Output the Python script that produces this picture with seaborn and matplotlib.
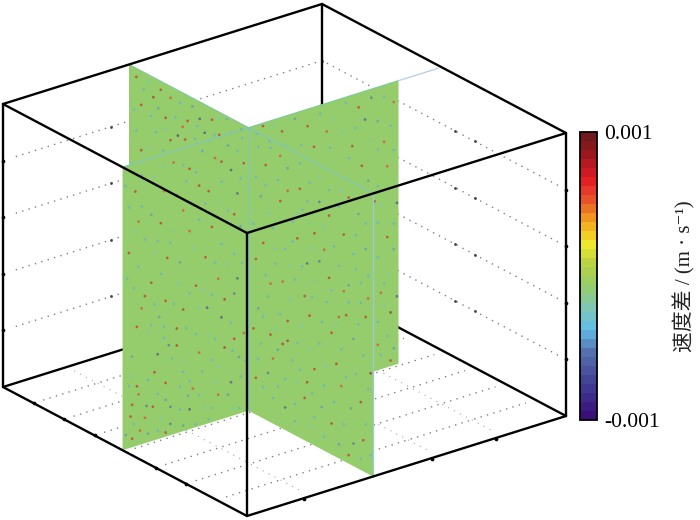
import numpy as np
import pandas as pd
import matplotlib
matplotlib.use("Agg")
import matplotlib.pyplot as plt
from matplotlib.cm import ScalarMappable
from matplotlib.colors import LinearSegmentedColormap, Normalize
import seaborn as sns

sns.set_theme(style="white")
plt.rcParams["font.family"] = ["Liberation Serif", "Noto Sans CJK SC", "DejaVu Sans"]

# ---- readings from the picture ------------------------------------------
z_levels = [0.2, 0.4, 0.6, 0.8]
floor_x_lines = [0.125, 0.25, 0.375, 0.5, 0.625, 0.75, 0.875]
floor_y_lines = [0.2, 0.4, 0.6, 0.8]
slice_x = 0.49          # slice at constant x
slice_y = 0.395         # slice at constant y
slice_x_green_end = 0.865
cbar_ticks = [-0.001, 0.001]
cbar_labels = ["-0.001", "0.001"]
cbar_title = "速度差 / (m · s⁻¹)"
bar_colors = ["#3a1078", "#3d2f8c", "#48509c", "#5572ae", "#5fbde8", "#7fc6b4",
              "#96cd6c", "#b5d044", "#efe92a", "#f3a71f", "#e8562a", "#e31b25",
              "#a5181f", "#701a1e"]
cut_green = "#96cd6c"

# slice x = const, y < slice_y: (y, z, speed difference x 1e-4)
panel_a = [
 (.03,.32,-5),(.11,.30,-8),(.145,.32,-6),(.17,.31,7),(.08,.39,-3),(.13,.35,-4),(.20,.36,-4),
 (.265,.41,-8),(.31,.36,-8),(.36,.48,-7),(.35,.43,-6),(.32,.42,8),(.07,.52,7),(.10,.48,-4),
 (.135,.48,7),(.035,.56,-4),(.09,.56,7),(.17,.53,-3),(.21,.48,-4),(.25,.48,-3),(.23,.50,7),
 (.045,.42,7),(.09,.41,-4),(.13,.39,-4),(.17,.37,7),(.23,.33,-4),(.27,.31,-3),(.29,.29,-4),
 (.35,.27,7),(.38,.28,6),(.34,.33,-4),(.32,.25,8),(.345,.23,-4),(.365,.20,-5),(.385,.18,-4),
 (.37,.13,-4),(.34,.12,-7),(.29,.14,-3),(.25,.19,-4),(.21,.17,-4),(.22,.14,6),(.205,.12,-5),
 (.135,.19,7),(.08,.22,-4),(.045,.21,7),(.02,.22,-4),(.05,.18,6),(.135,.13,-5),(.075,.13,-6),
 (.095,.12,7),(.15,.10,-6),(.21,.07,-8),(.18,.08,-4),(.255,.06,-3),(.28,.05,-4),(.365,.02,-4),
 (.345,.025,-3),(.27,.015,-4),(.23,.01,-4),(.19,.02,-5),(.135,.015,7),(.08,.03,-5),(.055,.05,6),
 (.035,.08,-4),(.01,.05,-5),(.03,.03,7),(.15,.04,-6),(.11,.03,-4),(.19,.21,-4),(.025,.11,7),
 (.05,.63,-4),(.02,.69,7),(.10,.66,-3),(.14,.63,7),(.18,.60,-5),(.22,.64,-3),(.26,.59,7),
 (.31,.62,-4),(.35,.57,-4),(.37,.66,-5),(.035,.76,-3),(.07,.72,-4),(.12,.76,7),(.16,.72,-3),
 (.19,.78,6),(.24,.73,-4),(.28,.69,7),(.33,.73,-4),(.36,.78,-7),(.02,.85,-4),(.06,.84,-4),
 (.09,.80,-5),(.13,.87,6),(.17,.84,7),(.20,.88,-4),(.24,.85,7),(.27,.82,7),(.31,.84,-4),
 (.34,.87,-8),(.37,.83,-4),(.06,.95,-4),(.10,.93,-3),(.16,.96,6),(.21,.92,7),(.25,.97,-4),
 (.29,.93,6),(.33,.96,-5),(.36,.93,-4),(.38,.88,7),(.04,.90,7),
 (.015,.60,-4),(.06,.48,6),(.115,.43,-5),(.16,.46,-4),(.19,.43,7),(.24,.42,-3),(.28,.45,-4),
 (.30,.50,6),(.33,.54,-3),(.375,.53,-4),(.03,.25,-3),(.10,.24,7),(.155,.27,-4),(.185,.25,-3),
 (.24,.26,6),(.28,.22,-4),(.30,.19,-3),(.18,.16,-4),(.11,.16,-4),(.03,.15,7),(.33,.08,-5),
 (.30,.09,6),(.24,.11,-4),(.12,.07,-3),(.07,.09,6),(.15,.68,-4),(.21,.70,6),(.30,.77,-3),
 (.26,.78,-4),(.11,.70,-4),(.05,.79,6),(.01,.93,-4),(.13,.96,-3),(.19,.94,-4),(.23,.90,-4),
 (.31,.91,7),(.375,.97,-4),(.35,.71,7),(.29,.56,-4),(.12,.58,-4),
]
# slice y = const, x > slice_x: (x, z, speed difference x 1e-4)
panel_b = [
 (.51,.30,7),(.55,.36,-4),(.58,.31,7),(.61,.27,-5),(.63,.30,8),(.65,.32,8),(.67,.26,-4),
 (.70,.24,-4),(.73,.21,8),(.76,.27,7),(.80,.23,-4),(.84,.19,-4),(.87,.26,6),(.91,.20,-5),
 (.95,.24,7),(.98,.30,-4),(.53,.20,-4),(.57,.17,-6),(.61,.14,-4),(.64,.18,-4),(.68,.11,-4),
 (.72,.15,7),(.76,.10,-4),(.79,.15,-5),(.83,.11,7),(.88,.13,-4),(.92,.08,-6),(.96,.11,7),
 (.99,.07,-4),(.86,.05,-5),(.90,.03,7),(.95,.04,-4),(.80,.05,-4),(.74,.06,-3),(.68,.05,-4),
 (.64,.08,-7),(.59,.09,-4),(.55,.11,-4),(.52,.13,7),(.53,.38,-5),(.57,.44,-4),(.62,.40,-4),
 (.66,.47,-3),(.71,.40,-3),(.74,.45,7),(.78,.37,-4),(.83,.43,7),(.87,.39,-4),(.92,.45,-5),
 (.96,.41,-4),(.99,.36,9),(.52,.55,7),(.56,.51,-4),(.60,.57,-4),(.63,.52,6),(.68,.55,-4),
 (.72,.51,7),(.76,.58,-3),(.81,.53,-4),(.86,.50,6),(.90,.57,-4),(.94,.51,-4),(.97,.55,7),
 (.51,.67,-4),(.55,.62,7),(.59,.69,-4),(.64,.64,-4),(.69,.70,7),(.73,.63,-7),(.78,.66,-6),
 (.82,.62,7),(.86,.68,-4),(.90,.63,-5),(.95,.66,-4),(.98,.70,-4),(.54,.78,-5),(.58,.74,-3),
 (.62,.80,7),(.67,.75,-4),(.71,.81,-4),(.76,.75,7),(.80,.79,-3),(.84,.74,-4),(.88,.80,7),
 (.92,.75,-4),(.97,.79,-5),(.56,.90,7),(.61,.87,-4),(.65,.93,-5),(.70,.88,7),(.74,.92,-4),
 (.78,.87,-6),(.82,.93,-4),(.86,.89,-4),(.90,.94,7),(.94,.90,-5),(.53,.95,-4),(.58,.97,-4),
 (.54,.26,-4),(.59,.23,6),(.69,.19,-3),(.75,.18,-4),(.81,.30,-3),(.85,.33,7),(.89,.30,-4),
 (.93,.33,-4),(.97,.17,-4),(.60,.34,-3),(.65,.39,7),(.69,.33,-4),(.74,.33,-3),(.79,.45,-4),
 (.85,.47,-3),(.89,.52,7),(.95,.59,-4),(.58,.49,6),(.66,.59,-3),(.71,.61,-4),(.75,.52,-4),
 (.83,.58,-4),(.88,.60,6),(.60,.62,-3),(.67,.68,-4),(.75,.69,-3),(.80,.71,6),(.93,.70,-4),
 (.98,.62,6),(.52,.84,-4),(.56,.83,-4),(.65,.85,6),(.69,.79,-3),(.73,.85,-4),(.82,.84,7),
 (.87,.95,-3),(.93,.82,-4),(.97,.88,-4),(.62,.96,6),(.70,.97,-4),(.78,.96,-3),
]
# slice y = const, x < slice_x, above the other slice
panel_c = [
 (.03,.97,7),(.05,.88,7),(.06,.94,-4),(.10,.93,8),(.09,.86,-4),(.13,.97,7),(.12,.90,-5),
 (.17,.96,6),(.15,.88,7),(.19,.90,-4),(.20,.84,-9),(.03,.78,-4),(.05,.72,7),(.08,.74,-3),
 (.11,.81,-4),(.14,.76,-4),(.17,.81,7),(.21,.96,-4),(.24,.91,7),(.26,.97,-5),(.29,.94,-8),
 (.31,.90,-8),(.34,.96,7),(.37,.98,-3),(.40,.99,-4),(.23,.84,7),(.27,.86,-4),(.30,.83,-4),
 (.33,.88,-3),(.37,.92,7),(.42,.95,-4),(.46,.98,-5),(.02,.85,-4),(.08,.98,-3),(.15,.84,-3),
 (.22,.88,6),(.28,.91,-4),(.35,.91,-4),
]
# slice x = const, y > slice_y: behind the other slice
panel_d = [
 (.42,.97,-4),(.46,.93,-4),(.50,.95,7),(.54,.98,-5),(.58,.94,7),(.62,.97,-4),(.66,.93,-3),
 (.70,.98,-4),(.74,.95,7),(.78,.97,-6),(.82,.96,-4),(.85,.93,6),(.44,.99,7),(.51,.90,-3),
 (.56,.88,-4),(.60,.86,7),(.65,.84,-4),(.69,.88,-3),(.72,.82,7),(.76,.90,-7),(.80,.88,-5),
 (.84,.85,-4),(.71,.78,-4),(.75,.74,7),(.80,.78,-4),(.83,.71,6),(.77,.68,-5),(.80,.65,-4),
 (.85,.76,-4),(.79,.60,7),(.84,.63,-4),(.86,.57,-8),(.80,.52,-4),(.83,.46,7),(.85,.41,-5),
 (.80,.40,-4),(.83,.33,-3),(.81,.27,6),(.86,.24,-7),(.84,.19,9),(.80,.17,-4),(.83,.11,-4),
 (.85,.06,-5),(.81,.05,-4),(.84,.02,7),(.82,.30,-4),(.47,.98,-3),(.64,.90,6),(.73,.88,-4),
 (.78,.82,-3),(.82,.80,6),(.81,.58,-3),(.85,.50,-4),(.82,.22,-3),(.80,.09,6),
]

# ---- oblique view of the unit cube, in figure pixels --------------------
VIEW_ORIGIN = np.array([3.0, 387.0])
VIEW_X = np.array([244.0, 129.0])
VIEW_Y = np.array([319.0, -100.0])
VIEW_Z = np.array([0.0, -283.0])


def project(x, y, z):
    x, y, z = np.asarray(x, float), np.asarray(y, float), np.asarray(z, float)
    return (VIEW_ORIGIN[0] + VIEW_X[0] * x + VIEW_Y[0] * y + VIEW_Z[0] * z,
            VIEW_ORIGIN[1] + VIEW_X[1] * x + VIEW_Y[1] * y + VIEW_Z[1] * z)


def line3(ax, a, b, **kw):
    px, py = project([a[0], b[0]], [a[1], b[1]], [a[2], b[2]])
    ax.plot(px, py, **kw)


def quad(ax, pts, **kw):
    px, py = project(*zip(*pts))
    ax.fill(px, py, linewidth=0, **kw)


fig = plt.figure(figsize=(7, 5.2), dpi=100)
ax = fig.add_axes([0, 0, 1, 1])
ax.set_xlim(0, 700)
ax.set_ylim(520, 0)
ax.axis("off")

dots = dict(color="#808080", lw=1.0, dashes=(1, 3.8), zorder=1)
faint = dict(color="#a8a8a8", lw=.8, dashes=(1, 5.0), zorder=1)
for z in z_levels:
    line3(ax, (0, .04, z), (0, 1, z), **dots)
    line3(ax, (.02, 1, z), (.985, 1, z), **dots)
for x in floor_x_lines:
    line3(ax, (x, .03, 0), (x, .97, 0), **dots)
for y in floor_y_lines:
    line3(ax, (.03, y, 0), (.97, y, 0), **faint)

# darker points along the grid
for z in z_levels:
    px, py = project([0, 0, .545, .627], [.34, 1, 1, 1], [z] * 4)
    ax.scatter(px, py, s=4, color="#444444", linewidths=0, zorder=1.2)
    px, py = project([0, 1], [0, 1], [z, z])
    ax.scatter(px, py, s=7, color="black", linewidths=0, zorder=6)
tick_x = [.125, .25, .375, .625, .75]
px, py = project(tick_x, [0] * 5, [0] * 5)
ax.scatter(px, py, s=7, color="black", linewidths=0, zorder=6)
tick_y = [.18, .58, .78]
px, py = project([1] * 3, tick_y, [0] * 3)
ax.scatter(px, py + 1, s=7, color="black", linewidths=0, zorder=6)

edge = dict(color="black", lw=1.7, solid_capstyle="round")
# back edges (hidden by the slices)
line3(ax, (0, 0, 0), (0, 1, 0), zorder=1.5, **edge)
line3(ax, (0, 1, 0), (1, 1, 0), zorder=1.5, **edge)
line3(ax, (0, 1, 0), (0, 1, 1), zorder=1.5, **edge)

# the two slices
quad(ax, [(0, slice_y, 0), (1, slice_y, 0), (1, slice_y, 1), (0, slice_y, 1)],
     color=cut_green, zorder=2)
quad(ax, [(slice_x, 0, 0), (slice_x, slice_x_green_end, 0),
          (slice_x, slice_x_green_end, 1), (slice_x, 0, 1)],
     color=cut_green, zorder=2)

# speckles on the slices
cmap = LinearSegmentedColormap.from_list("speed", bar_colors, N=32)
norm = Normalize(cbar_ticks[0], cbar_ticks[1])
frames = []
for rows, kind in ((panel_a, "x"), (panel_d, "x"), (panel_b, "y"), (panel_c, "y")):
    t = pd.DataFrame(rows, columns=["s", "z", "dv"])
    if kind == "x":
        px, py = project(np.full(len(t), slice_x), t.s, t.z)
    else:
        px, py = project(t.s, np.full(len(t), slice_y), t.z)
    frames.append(pd.DataFrame({"px": px, "py": py, "dv": t.dv * 1e-4}))
speck = pd.concat(frames, ignore_index=True)
sns.scatterplot(data=speck, x="px", y="py", hue="dv", palette=cmap, hue_norm=norm,
                s=4, linewidth=0, alpha=.6, legend=False, ax=ax, zorder=3)
ax.set_xlim(0, 700)
ax.set_ylim(520, 0)
ax.axis("off")

# slice outlines
teal = dict(color="#7fc6b8", lw=.9, zorder=4)
line3(ax, (slice_x, 0, 1), (slice_x, slice_y, 1), **teal)
line3(ax, (slice_x, slice_y, 1), (slice_x, slice_x_green_end, 1), color="#7fcb94", lw=.9, zorder=4)
line3(ax, (slice_x, slice_x_green_end, 1), (slice_x, .99, 1), color="#b4cdea", lw=.9, zorder=4)
line3(ax, (0, slice_y, 1), (slice_x, slice_y, 1), color="#84c99a", lw=.9, zorder=4)
line3(ax, (slice_x, slice_y, 1), (1, slice_y, 1), **teal)
line3(ax, (slice_x, slice_y, 1), (slice_x, slice_y, 0), **teal)
line3(ax, (1, slice_y, 1), (1, slice_y, 0), color="#9cc8d8", lw=.9, zorder=4)

# near edges
for a, b in [((0, 0, 1), (0, 1, 1)), ((0, 1, 1), (1, 1, 1)), ((1, 1, 1), (1, 0, 1)),
             ((1, 0, 1), (0, 0, 1)), ((0, 0, 0), (0, 0, 1)), ((1, 0, 0), (1, 0, 1)),
             ((1, 1, 0), (1, 1, 1)), ((0, 0, 0), (1, 0, 0)), ((1, 0, 0), (1, 1, 0))]:
    line3(ax, a, b, zorder=5, **edge)

# colour bar
cax = fig.add_axes([580 / 700, (520 - 420) / 520, 17 / 700, 288 / 520])
cb = fig.colorbar(ScalarMappable(norm=norm, cmap=cmap), cax=cax, ticks=cbar_ticks)
cb.ax.set_yticklabels(cbar_labels, fontsize=15.5, color="black")
cb.ax.tick_params(length=0, pad=5, right=True)
cb.outline.set_linewidth(1.3)
cb.outline.set_edgecolor("black")
fig.text(684 / 700, 1 - 276 / 520, cbar_title, rotation=90, ha="center", va="center",
         fontsize=15, color="#222222")

fig.savefig("out.png", dpi=100)
